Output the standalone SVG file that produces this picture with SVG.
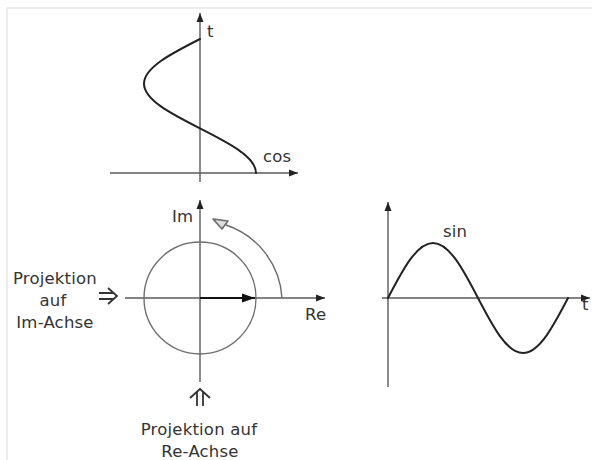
<svg xmlns="http://www.w3.org/2000/svg" width="592" height="460" viewBox="0 0 592 460">
  <style>
    .axis { fill: none; stroke: #5a5a5a; stroke-width: 1.4; }
    .curve { fill: none; stroke: #222; stroke-width: 2; stroke-linecap: round; }
    .circle { fill: none; stroke: #707070; stroke-width: 1.4; }
    .lbl { font-family: "DejaVu Sans", "Liberation Sans", sans-serif; font-size: 16.5px; fill: #333; letter-spacing: 0.2px; }
    .sym { fill: none; stroke: #333; stroke-width: 1.8; }
  </style>
  <defs>
    <marker id="ah" markerUnits="userSpaceOnUse" markerWidth="10" markerHeight="8" refX="9" refY="4" orient="auto">
      <path d="M0,0.5 L9,4 L0,7.5 Z" fill="#222"/>
    </marker>
    <marker id="ahBig" markerUnits="userSpaceOnUse" markerWidth="14" markerHeight="10" refX="13" refY="5" orient="auto">
      <path d="M0,0.5 L13,5 L0,9.5 Z" fill="#111"/>
    </marker>
  </defs>
  <rect width="592" height="460" fill="#fff"/>
  <path d="M7,460 V8 H592" fill="none" stroke="#ececec" stroke-width="2"/>

  <g id="cos-plot">
    <line class="axis" x1="200" y1="182" x2="200" y2="13" marker-end="url(#ah)"/>
    <line class="axis" x1="110" y1="173" x2="298" y2="173" marker-end="url(#ah)"/>
    <path class="curve" d="M256,173 C256,156.83 228.69,142.9 200,128.33 C171.31,113.76 144,99.83 144,83.67 C144,67.5 171.31,53.57 200,39"/>
    <text class="lbl" x="207" y="37">t</text>
    <text class="lbl" x="263" y="162">cos</text>
  </g>

  <g id="phasor-plot">
    <line class="axis" x1="200" y1="382" x2="200" y2="200" marker-end="url(#ah)"/>
    <line class="axis" x1="125" y1="298" x2="325" y2="298" marker-end="url(#ah)"/>
    <circle class="circle" cx="200" cy="298" r="56"/>
    <line x1="200" y1="298" x2="255" y2="298" stroke="#111" stroke-width="2" marker-end="url(#ahBig)"/>
    <text class="lbl" x="172" y="222">Im</text>
    <text class="lbl" x="305" y="320">Re</text>
  </g>

  <g id="sin-plot">
    <line class="axis" x1="388" y1="387" x2="388" y2="202" marker-end="url(#ah)"/>
    <line class="axis" x1="382" y1="298" x2="590" y2="298" marker-end="url(#ah)"/>
    <path class="curve" d="M388,298 C402.67,269.82 416.71,243 433,243 C449.29,243 463.33,269.82 478,298 C492.67,326.18 506.71,353 523,353 C539.29,353 553.33,326.18 568,298"/>
    <text class="lbl" x="443" y="237">sin</text>
    <text class="lbl" x="582" y="310">t</text>
  </g>

  <g id="label-im-projection">
    <text class="lbl" x="55" y="284" text-anchor="middle">Projektion</text>
    <text class="lbl" x="53" y="306" text-anchor="middle">auf</text>
    <text class="lbl" x="55" y="328" text-anchor="middle">Im-Achse</text>
  </g>

  <g id="label-re-projection">
    <text class="lbl" x="199" y="435" text-anchor="middle">Projektion auf</text>
    <text class="lbl" x="200" y="457" text-anchor="middle">Re-Achse</text>
  </g>

  <g id="connectors">
    <path d="M282,298 A82,82 0 0 0 226,225" fill="none" stroke="#6a6a6a" stroke-width="1.4"/>
    <polygon points="213,219 228,221 222,229" fill="#dcdcdc" stroke="#6a6a6a" stroke-width="1.6" stroke-linejoin="round"/>
    <path class="sym" d="M99,293 H114 M99,299 H114 M108,288 L117,296 L108,304"/>
    <path class="sym" d="M197,392 V406 M203,392 V406 M190,398 L200,389 L210,398"/>
  </g>
</svg>
